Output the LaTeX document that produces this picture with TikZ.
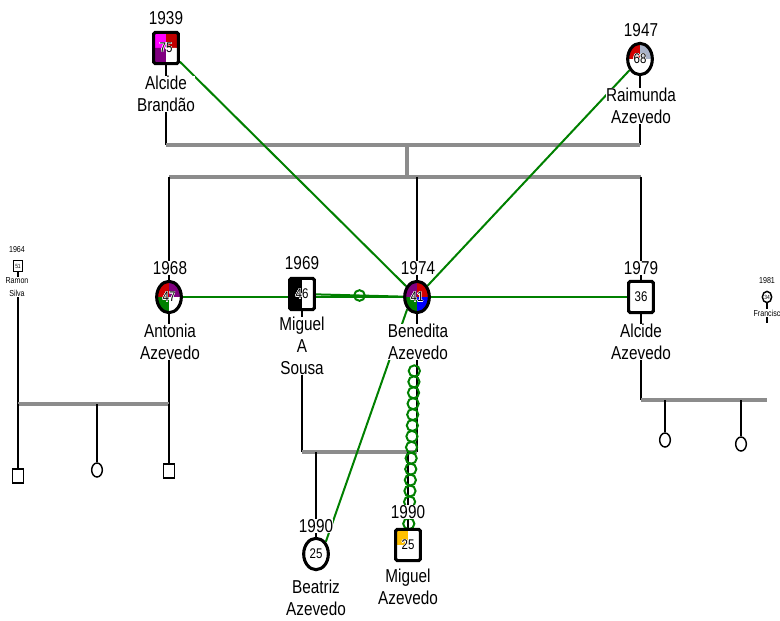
\documentclass[tikz,border=0pt]{standalone}
\usepackage{fontspec}
\setmainfont[FakeStretch=0.82]{Liberation Sans}
\usepackage{contour}
\contourlength{0.35pt}
\usetikzlibrary{shapes.geometric,backgrounds,calc}

\definecolor{famgray}{HTML}{8C8C8C}
\definecolor{relgreen}{HTML}{008000}
\definecolor{qmag}{HTML}{FF00FF}
\definecolor{qmaroon}{HTML}{C00000}
\definecolor{qpurple}{HTML}{800080}
\definecolor{qred}{HTML}{D00000}
\definecolor{qsteel}{HTML}{A9B3C9}
\definecolor{qgreen}{HTML}{008000}
\definecolor{qblue}{HTML}{0000FF}
\definecolor{qgold}{HTML}{FFC000}

\newcommand\lblsize{\fontsize{14}{16.5}\selectfont}
\newcommand\numsize{\fontsize{10.5}{12}\selectfont}
\newcommand\tinysize{\fontsize{6.5}{9.5}\selectfont}
\newcommand\pnum[1]{\contour{white}{#1}}

\tikzset{
  man/.style={draw, line width=2.3pt, rounded corners=1.2pt, minimum width=18.5pt,
    minimum height=23.5pt, inner sep=0pt, fill=white, font=\numsize},
  woman/.style={man, ellipse, rounded corners=0pt},
  kidm/.style={draw, line width=1.1pt, minimum width=8pt, minimum height=10.5pt,
    inner sep=0pt, fill=white},
  kidf/.style={kidm, ellipse},
  tinym/.style={draw, line width=1.1pt, minimum width=7pt, minimum height=8.5pt,
    inner sep=0pt, fill=white, font=\fontsize{4.5}{5}\selectfont},
  tinyf/.style={tinym, ellipse},
  quads/.style n args={4}{path picture={
    \fill[#1] (path picture bounding box.center) rectangle (path picture bounding box.north west);
    \fill[#2] (path picture bounding box.center) rectangle (path picture bounding box.north east);
    \fill[#3] (path picture bounding box.center) rectangle (path picture bounding box.south west);
    \fill[#4] (path picture bounding box.center) rectangle (path picture bounding box.south east);}},
  yr/.style={fill=white, inner sep=0.3pt, font=\lblsize},
  nm/.style={yr, align=center},
  tinylbl/.style={fill=white, inner sep=0.3pt, align=center, font=\tinysize},
  par/.style={line width=1.5pt},
  fam/.style={line width=2.6pt, famgray},
  rel/.style={line width=1.5pt, relgreen},
  relknot/.style={circle, draw=relgreen, line width=1.5pt, minimum size=8pt, inner sep=0pt},
}

\begin{document}
\begin{tikzpicture}[x=0.75pt, y=-0.75pt]
\useasboundingbox (0,0) rectangle (780,620);

% Personen
\node[man, quads={qmag}{qmaroon}{qpurple}{white}] (ab) at (166,48) {\pnum{75}};
\node[woman, quads={qred}{qsteel}{white}{white}] (ra) at (640,59) {\pnum{68}};
\node[woman, quads={qred}{qpurple}{qgreen}{white}] (an) at (169,297) {\pnum{47}};
\node[man, quads={black}{white}{black}{white}] (ms) at (302,294) {\pnum{46}};
\node[woman, quads={qpurple}{qred}{qgreen}{qblue}] (be) at (417,297) {\pnum{41}};
\node[man] (aa) at (641,297) {\pnum{36}};
\node[tinym] (rs) at (18,266) {51};
\node[tinyf] (fr) at (767,297) {34};
\node[woman] (bea) at (316,554) {\pnum{25}};
\node[man, quads={qgold}{white}{white}{white}] (mia) at (408,545) {\pnum{25}};
% Kinder ohne Namen
\node[kidm] (k1) at (18,476) {};
\node[kidf] (k2) at (97,470) {};
\node[kidm] (k3) at (169,471) {};
\node[kidf] (k4) at (665,440) {};
\node[kidf] (k5) at (741,444) {};

% Jahre und Namen
\node[yr] (ab-y) at (166,18) {1939};
\node[nm] (ab-n) at (166,94) {Alcide\\Brandão};
\node[yr] (ra-y) at (641,30) {1947};
\node[nm] (ra-n) at (641,106) {Raimunda\\Azevedo};
\node[yr] (an-y) at (170,268) {1968};
\node[nm] (an-n) at (170,342) {Antonia\\Azevedo};
\node[yr] (ms-y) at (302,263) {1969};
\node[nm] (ms-n) at (302,346) {Miguel\\A\\Sousa};
\node[yr] (be-y) at (418,268) {1974};
\node[nm] (be-n) at (418,342) {Benedita\\Azevedo};
\node[yr] (aa-y) at (641,268) {1979};
\node[nm] (aa-n) at (641,342) {Alcide\\Azevedo};
\node[tinylbl] (rs-y) at (17,250) {1964};
\node[tinylbl] (rs-n) at (17,287) {Ramon\\Silva};
\node[tinylbl] (fr-y) at (767,281) {1981};
\node[tinylbl] (fr-n) at (767,313) {Francisc};
\node[yr] (bea-y) at (316,526) {1990};
\node[nm] (bea-n) at (316,598) {Beatriz\\Azevedo};
\node[yr] (mia-y) at (408,512) {1990};
\node[nm] (mia-n) at (408,587) {Miguel\\Azevedo};

\begin{scope}[on background layer]
  % Familienlinien
  \coordinate (c-top) at (407,145);
  \coordinate (c-sib) at (407,177);
  \draw[par] (ab) -- (ab |- c-top);
  \draw[par] (ra) -- (ra |- c-top);
  \draw[fam] (ab |- c-top) -- (ra |- c-top);
  \draw[fam] (c-top) -- (c-sib);
  \draw[fam] (an |- c-sib) -- (aa |- c-sib);
  \draw[par] (an |- c-sib) -- (an);
  \draw[par] (be |- c-sib) -- (be);
  \draw[par] (aa |- c-sib) -- (aa);

  \coordinate (c-left) at (97,404);
  \draw[par] (rs) -- (rs |- c-left);
  \draw[par] (an) -- (an |- c-left);
  \draw[fam] (rs |- c-left) -- (an |- c-left);
  \foreach \k in {k1,k2,k3}
    \draw[par] (\k |- c-left) -- (\k);

  \coordinate (c-mid) at (360,452);
  \draw[par] (ms) -- (ms |- c-mid);
  \draw[par] (be) -- (be |- c-mid);
  \draw[fam] (ms |- c-mid) -- (be |- c-mid);
  \draw[par] (bea |- c-mid) -- (bea);
  \draw[par] (mia |- c-mid) -- (mia);

  \coordinate (c-right) at (700,400);
  \draw[par] (aa) -- (aa |- c-right);
  \draw[fam] (aa |- c-right) -- (fr |- c-right);
  \draw[par] (fr) -- ++(0,26);
  \foreach \k in {k4,k5}
    \draw[par] (\k |- c-right) -- (\k);

  % Beziehungen
  \draw[rel] (ab) -- (be);
  \draw[rel] (ra) -- (be);
  \draw[rel] (an) -- (be);
  \draw[rel] (ms) -- node[relknot] (knot) {} (be);
  \draw[rel] (be) -- (aa);
  \draw[rel] (be.south west) -- (bea.north east);
  \foreach \t in {0,...,14}
    \draw[rel] ($(be)!{0.298+0.044*\t}!(mia)$) circle[radius=4.2pt];
\end{scope}
\end{tikzpicture}
\end{document}
